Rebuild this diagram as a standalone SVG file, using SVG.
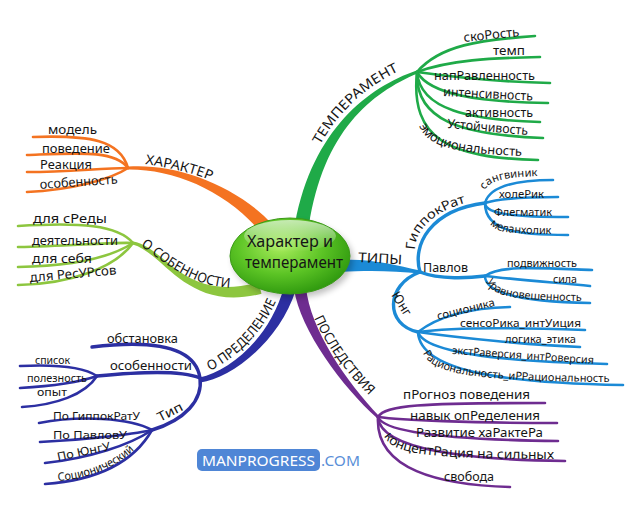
<svg xmlns="http://www.w3.org/2000/svg" width="630" height="511" viewBox="0 0 630 511">
<defs>
<style>
.t{font-family:"Noto Sans","DejaVu Sans",sans-serif;fill:#151515;font-size:13px}
.s{font-size:11.5px}
.xs{font-size:11px}
.b{font-size:13.5px}
.ln{fill:none;stroke-linecap:round;stroke-width:2.6}
.sb{stroke-width:3.4}
.or{stroke:#f47321}.lg{stroke:#8dc63f}.db{stroke:#2c2fa2}.gr{stroke:#1faa48}.bl{stroke:#1b8ad6}.pu{stroke:#6e2c90}
.fo{fill:#f47321}.flg{fill:#8dc63f}.fdb{fill:#2c2fa2}.fgr{fill:#1faa48}.fbl{fill:#1b8ad6}.fpu{fill:#6e2c90}
</style>
<radialGradient id="gc" cx="0.42" cy="0.38" r="0.65">
<stop offset="0" stop-color="#a8ec5c"/>
<stop offset="0.55" stop-color="#5cc425"/>
<stop offset="1" stop-color="#2e980e"/>
</radialGradient>
<linearGradient id="gl" x1="0" y1="0" x2="0" y2="1">
<stop offset="0" stop-color="#ffffff" stop-opacity="0.65"/>
<stop offset="1" stop-color="#ffffff" stop-opacity="0"/>
</linearGradient>
<filter id="sh" x="-20%" y="-20%" width="140%" height="140%"><feGaussianBlur stdDeviation="3"/></filter>
<path id="tp-har" d="M145,164 C170,168 195,173 214,182"/>
<path id="tp-osb" d="M141,246 C165,262 190,288 238,288"/>
<path id="tp-tem" d="M320,145 C338,113 363,88 401,70"/>
<path id="tp-gip" d="M415,250 C415,228 438,208 474,201"/>
<path id="tp-opr" d="M210,371 C235,358 262,335 277,299"/>
<path id="tp-pos" d="M314,318 C326,345 345,372 372,398"/>
<path id="tp-emo" d="M419,126 C428,145 448,154 526,156"/>
<path id="tp-ura" d="M486,281 C492,296 508,300 580,301"/>
<path id="tp-rac" d="M423,353 C432,372 460,381 608,382"/>
<path id="tp-mel" d="M490,224 C497,233 510,234 556,234"/>
<path id="tp-san" d="M484,190 C492,180 505,177 540,176"/>
<path id="tp-kon" d="M384,436 C393,452 412,459 552,459"/>
<path id="tp-soc" d="M58,481 C85,479 116,470 138,446"/>
</defs>

<rect width="630" height="511" fill="#ffffff"/>

<g id="connectors">
<!-- ХАРАКТЕР -->
<path class="fo" d="M128,166.5 C175,163 236.2,184.4 273.3,225.4 L262.7,234.6 C227.8,191.6 175,169 128,169.5 Z"/>
<path class="ln or" d="M33,137 C90,135 120,140 128,168"/>
<path class="ln or" d="M27,155 C80,153 115,150 128,168"/>
<path class="ln or" d="M27,172 C70,172 100,168 128,168"/>
<path class="ln or" d="M27,192 C70,190 110,180 128,168"/>
<!-- О СОБЕННОСТИ -->
<path class="flg" d="M133.3,241.5 C165.6,247.1 183.7,303.2 258.5,282.2 L261.5,293.8 C186.3,312.8 164.4,252.9 132.7,244.5 Z"/>
<path class="ln lg" d="M18,226 C80,222 118,225 133,243"/>
<path class="ln lg" d="M18,247 C70,246 110,242 133,243"/>
<path class="ln lg" d="M18,267 C70,266 110,258 133,243"/>
<path class="ln lg" d="M18,285 C70,284 115,268 133,243"/>
<!-- О ПРЕДЕЛЕНИЕ -->
<path class="fdb" d="M199.6,377.5 C229.3,371.1 270.2,338.6 284.2,286.3 L295.8,289.7 C279.8,341.4 230.7,378.9 200.4,382.5 Z"/>
<path class="ln db sb" d="M92,347 C150,340 195,345 200,378"/>
<path class="ln db sb" d="M97,376 C140,372 180,370 200,378"/>
<path class="ln db sb" d="M200,378 C203,400 185,420 152,430"/>
<path class="ln db" d="M20,366 C60,364 85,368 97,376"/>
<path class="ln db" d="M20,388 C55,386 80,382 97,376"/>
<path class="ln db" d="M22,407 C55,405 85,395 97,376"/>
<path class="ln db" d="M39,423 C80,415 130,418 152,430"/>
<path class="ln db" d="M40,442 C80,440 130,435 152,430"/>
<path class="ln db" d="M45,463 C90,458 130,445 152,430"/>
<path class="ln db" d="M45,484 C100,480 135,460 152,430"/>
<!-- ТЕМПЕРАМЕНТ -->
<path class="fgr" d="M417.5,73.4 C371.1,92.8 323.4,130.9 308.9,226.2 L295.1,223.8 C312.6,129.1 368.9,87.2 416.5,70.6 Z"/>
<path class="ln gr" d="M417,72 C440,45 480,40 535,36"/>
<path class="ln gr" d="M417,72 C450,60 490,58 540,57"/>
<path class="ln gr" d="M417,72 C460,78 500,82 550,83"/>
<path class="ln gr" d="M417,72 C430,95 480,102 548,103"/>
<path class="ln gr" d="M417,72 C420,110 470,120 540,122"/>
<path class="ln gr" d="M417,72 C415,120 460,135 543,138"/>
<path class="ln gr" d="M417,72 C410,140 450,158 538,160"/>
<!-- ТИПЫ -->
<path class="fbl" d="M340,272 C370,270 395,271 420,273.5 L420,270.5 C395,265 370,258 340,260 Z"/>
<path class="ln bl sb" d="M420,272 C412,245 430,210 485,203"/>
<path class="ln bl sb" d="M420,272 C440,280 470,278 485,276"/>
<path class="ln bl sb" d="M420,272 C385,285 385,325 418,332"/>
<path class="ln bl" d="M485,203 C490,185 520,180 553,180"/>
<path class="ln bl" d="M485,203 C500,198 530,197 558,197"/>
<path class="ln bl" d="M485,203 C485,215 520,217 568,217"/>
<path class="ln bl" d="M485,203 C485,232 520,235 568,235"/>
<path class="ln bl" d="M485,276 C500,265 540,268 592,270"/>
<path class="ln bl" d="M485,276 C520,280 560,283 590,286"/>
<path class="ln bl" d="M485,276 C485,295 530,302 590,303"/>
<path class="ln bl" d="M418,332 C440,315 470,308 510,307"/>
<path class="ln bl" d="M418,332 C460,326 530,328 585,330"/>
<path class="ln bl" d="M418,332 C460,338 530,345 580,347"/>
<path class="ln bl" d="M418,332 C425,355 520,362 607,364"/>
<path class="ln bl" d="M418,332 C420,375 520,383 623,385"/>
<!-- ПОСЛЕДСТВИЯ -->
<path class="fpu" d="M377,418.1 C342.9,387.2 300,330.6 294,288.7 L306,287.3 C310,329.4 347.1,382.8 379,415.9 Z"/>
<path class="ln pu" d="M378,417 C385,405 420,403 545,403"/>
<path class="ln pu" d="M378,417 C400,420 470,423 557,423"/>
<path class="ln pu" d="M378,417 C385,435 470,440 558,441"/>
<path class="ln pu" d="M378,417 C380,450 470,460 565,461"/>
<path class="ln pu" d="M378,417 C375,470 440,485 510,487"/>
</g>

<g id="center">
<ellipse cx="293" cy="260" rx="60" ry="38" fill="#000" opacity="0.25" filter="url(#sh)"/>
<ellipse cx="290" cy="256" rx="60" ry="38" fill="url(#gc)" stroke="#3a9a16" stroke-width="1"/>
<ellipse cx="290" cy="236" rx="46" ry="16" fill="url(#gl)"/>
<text class="t" x="290" y="247" text-anchor="middle" style="font-size:16px" textLength="86" lengthAdjust="spacingAndGlyphs">Характер и</text>
<text class="t" x="294" y="268" text-anchor="middle" style="font-size:16px" textLength="98" lengthAdjust="spacingAndGlyphs">темперамент</text>
</g>

<g id="n-harakter"><text class="t b"><textPath href="#tp-har" textLength="68" lengthAdjust="spacingAndGlyphs">ХАРАКТЕР</textPath></text></g>
<g id="n-model"><text class="t" x="48" y="134" textLength="49" lengthAdjust="spacingAndGlyphs">модель</text></g>
<g id="n-povedenie"><text class="t" x="42" y="153" textLength="68" lengthAdjust="spacingAndGlyphs">поведение</text></g>
<g id="n-reakciya"><text class="t" x="40" y="169" textLength="52" lengthAdjust="spacingAndGlyphs">Реакция</text></g>
<g id="n-osobennost"><text class="t" x="40" y="189" transform="rotate(-4 40 189)" textLength="78" lengthAdjust="spacingAndGlyphs">особенность</text></g>

<g id="n-o-sobennosti"><text class="t b"><textPath href="#tp-osb" textLength="100" lengthAdjust="spacingAndGlyphs">О СОБЕННОСТИ</textPath></text></g>
<g id="n-sredy"><text class="t" x="33" y="223" textLength="74" lengthAdjust="spacingAndGlyphs">для сРеды</text></g>
<g id="n-deyat"><text class="t" x="32" y="245" textLength="86" lengthAdjust="spacingAndGlyphs">деятельности</text></g>
<g id="n-sebya"><text class="t" x="32" y="263" textLength="60" lengthAdjust="spacingAndGlyphs">для себя</text></g>
<g id="n-resursov"><text class="t" x="30" y="282" transform="rotate(-5 30 282)" textLength="87" lengthAdjust="spacingAndGlyphs">для РесУРсов</text></g>

<g id="n-o-predelenie"><text class="t b"><textPath href="#tp-opr" textLength="98" lengthAdjust="spacingAndGlyphs">О ПРЕДЕЛЕНИЕ</textPath></text></g>
<g id="n-obstanovka"><text class="t" x="107" y="343" textLength="71" lengthAdjust="spacingAndGlyphs">обстановка</text></g>
<g id="n-osobennosti"><text class="t" x="110" y="370" textLength="82" lengthAdjust="spacingAndGlyphs">особенности</text></g>
<g id="n-spisok"><text class="t xs" x="35" y="364" textLength="35" lengthAdjust="spacingAndGlyphs">список</text></g>
<g id="n-poleznost"><text class="t xs" x="27" y="382" textLength="60" lengthAdjust="spacingAndGlyphs">полезность</text></g>
<g id="n-opyt"><text class="t xs" x="37" y="396" textLength="30" lengthAdjust="spacingAndGlyphs">опыт</text></g>
<g id="n-tip"><text class="t" x="160" y="422" transform="rotate(-27 160 422)" textLength="27" lengthAdjust="spacingAndGlyphs">Тип</text></g>
<g id="n-po-gipp"><text class="t s" x="53" y="420" textLength="87" lengthAdjust="spacingAndGlyphs">По ГиппокРатУ</text></g>
<g id="n-po-pavl"><text class="t s" x="53" y="439" textLength="74" lengthAdjust="spacingAndGlyphs">По ПавловУ</text></g>
<g id="n-po-yung"><text class="t s" x="58" y="461" transform="rotate(-12 58 461)" textLength="54" lengthAdjust="spacingAndGlyphs">По ЮнгУ</text></g>
<g id="n-socion"><text class="t s"><textPath href="#tp-soc" textLength="84" lengthAdjust="spacingAndGlyphs">Соционический</textPath></text></g>

<g id="n-temperament"><text class="t b"><textPath href="#tp-tem" textLength="110" lengthAdjust="spacingAndGlyphs">ТЕМПЕРАМЕНТ</textPath></text></g>
<g id="n-skorost"><text class="t" x="464" y="42" transform="rotate(-6 464 42)" textLength="56" lengthAdjust="spacingAndGlyphs">скоРость</text></g>
<g id="n-temp"><text class="t" x="493" y="55" textLength="32" lengthAdjust="spacingAndGlyphs">темп</text></g>
<g id="n-napr"><text class="t" x="434" y="80" textLength="101" lengthAdjust="spacingAndGlyphs">напРавленность</text></g>
<g id="n-intens"><text class="t" x="443" y="96" transform="rotate(3 443 96)" textLength="90" lengthAdjust="spacingAndGlyphs">интенсивность</text></g>
<g id="n-aktiv"><text class="t" x="465" y="117" textLength="68" lengthAdjust="spacingAndGlyphs">активность</text></g>
<g id="n-ustoich"><text class="t" x="447" y="128" transform="rotate(5 447 128)" textLength="81" lengthAdjust="spacingAndGlyphs">Устойчивость</text></g>
<g id="n-emoc"><text class="t"><textPath href="#tp-emo" textLength="112" lengthAdjust="spacingAndGlyphs">эмоциональность</textPath></text></g>

<g id="n-tipy"><text class="t b" x="358" y="262" transform="rotate(3 358 262)" textLength="44" lengthAdjust="spacingAndGlyphs">ТИПЫ</text></g>
<g id="n-gippokrat"><text class="t"><textPath href="#tp-gip" textLength="74" lengthAdjust="spacingAndGlyphs">ГиппокРат</textPath></text></g>
<g id="n-sangv"><text class="t xs"><textPath href="#tp-san" textLength="57" lengthAdjust="spacingAndGlyphs">сангвиник</textPath></text></g>
<g id="n-holerik"><text class="t xs" x="499" y="198" textLength="45" lengthAdjust="spacingAndGlyphs">холеРик</text></g>
<g id="n-flegm"><text class="t xs" x="494" y="216" textLength="58" lengthAdjust="spacingAndGlyphs">Флегматик</text></g>
<g id="n-melanh"><text class="t xs"><textPath href="#tp-mel" textLength="64" lengthAdjust="spacingAndGlyphs">меланхолик</textPath></text></g>
<g id="n-pavlov"><text class="t" x="423" y="272" textLength="45" lengthAdjust="spacingAndGlyphs">Павлов</text></g>
<g id="n-podv"><text class="t xs" x="507" y="267" textLength="70" lengthAdjust="spacingAndGlyphs">подвижность</text></g>
<g id="n-sila"><text class="t xs" x="553" y="283" textLength="24" lengthAdjust="spacingAndGlyphs">сила</text></g>
<g id="n-uravn"><text class="t xs"><textPath href="#tp-ura" textLength="102" lengthAdjust="spacingAndGlyphs">Уравновешенность</textPath></text></g>
<g id="n-yung"><text class="t" x="391" y="295" transform="rotate(58 391 295)" textLength="26" lengthAdjust="spacingAndGlyphs">Юнг</text></g>
<g id="n-socionika"><text class="t xs" x="438" y="320" transform="rotate(-14 438 320)" textLength="59" lengthAdjust="spacingAndGlyphs">соционика</text></g>
<g id="n-sensor"><text class="t xs" x="460" y="327" textLength="121" lengthAdjust="spacingAndGlyphs">сенсоРика_интУиция</text></g>
<g id="n-logika"><text class="t xs" x="505" y="343" textLength="71" lengthAdjust="spacingAndGlyphs">логика_этика</text></g>
<g id="n-ekstr"><text class="t xs" x="452" y="354" transform="rotate(4 452 354)" textLength="142" lengthAdjust="spacingAndGlyphs">экстРаверсия_интРоверсия</text></g>
<g id="n-racion"><text class="t xs"><textPath href="#tp-rac" textLength="194" lengthAdjust="spacingAndGlyphs">Рациональность_иРРациональность</textPath></text></g>

<g id="n-posledstviya"><text class="t b"><textPath href="#tp-pos" textLength="96" lengthAdjust="spacingAndGlyphs">ПОСЛЕДСТВИЯ</textPath></text></g>
<g id="n-prognoz"><text class="t" x="403" y="399" textLength="127" lengthAdjust="spacingAndGlyphs">пРогноз поведения</text></g>
<g id="n-navyk"><text class="t" x="410" y="420" textLength="130" lengthAdjust="spacingAndGlyphs">навык опРеделения</text></g>
<g id="n-razvitie"><text class="t" x="416" y="437" textLength="127" lengthAdjust="spacingAndGlyphs">Развитие хаРактеРа</text></g>
<g id="n-koncentr"><text class="t"><textPath href="#tp-kon" textLength="176" lengthAdjust="spacingAndGlyphs">концентРация на сильных</textPath></text></g>
<g id="n-svoboda"><text class="t" x="444" y="481" textLength="50" lengthAdjust="spacingAndGlyphs">свобода</text></g>

<g id="logo">
<rect x="197" y="449" width="123" height="22" rx="5" fill="#4f86d6"/>
<text x="202" y="466" font-family="'Noto Sans','DejaVu Sans',sans-serif" font-size="15" fill="#ffffff" textLength="113" lengthAdjust="spacingAndGlyphs">MANPROGRESS</text>
<text x="321" y="466" font-family="'Noto Sans','DejaVu Sans',sans-serif" font-size="14" fill="#5b8fd8" textLength="39" lengthAdjust="spacingAndGlyphs">.COM</text>
</g>
</svg>
